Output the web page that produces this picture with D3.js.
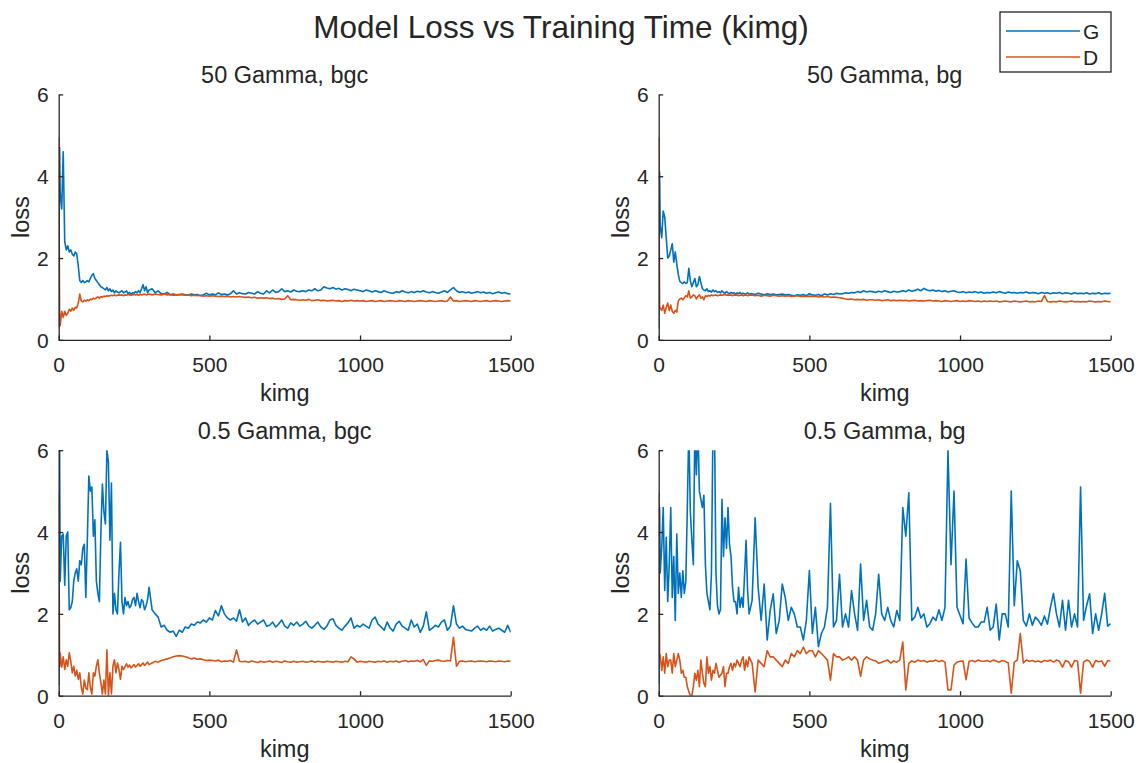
<!DOCTYPE html>
<html>
<head>
<meta charset="utf-8">
<script src="https://cdn.jsdelivr.net/npm/d3@7"></script>
<style>
  body { margin: 0; background: #fff; }
  text { font-family: "Liberation Sans", Arial, Helvetica, sans-serif; fill: #262626; }
</style>
</head>
<body>
<script>
// loss curves

var kimg = [0, 3,
  5, 10, 15, 20, 25, 30, 35, 40, 45, 50,
  55, 60, 65, 70, 75, 80, 85, 90, 95, 100,
  105, 110, 115, 120, 125, 130, 135, 140, 145, 150,
  155, 160, 165, 170, 175, 180, 185, 190, 195, 200,
  205, 210, 215, 220, 225, 230, 235, 240, 245, 250,
  255, 260, 265, 270, 275, 280, 285, 290, 295, 300,
  310, 320, 330, 340, 350, 360, 370, 380, 390, 400,
  410, 420, 430, 440, 450, 460, 470, 480, 490, 500,
  510, 520, 530, 540, 550, 560, 570, 580, 590, 600,
  610, 620, 630, 640, 650, 660, 670, 680, 690, 700,
  710, 720, 730, 740, 750, 760, 770, 780, 790, 800,
  810, 820, 830, 840, 850, 860, 870, 880, 890, 900,
  910, 920, 930, 940, 950, 960, 970, 980, 990, 1000,
  1010, 1020, 1030, 1040, 1050, 1060, 1070, 1080, 1090, 1100,
  1110, 1120, 1130, 1140, 1150, 1160, 1170, 1180, 1190, 1200,
  1210, 1220, 1230, 1240, 1250, 1260, 1270, 1280, 1290, 1300,
  1310, 1320, 1330, 1340, 1350, 1360, 1370, 1380, 1390, 1400,
  1410, 1420, 1430, 1440, 1450, 1460, 1470, 1480, 1490, 1500];

// 50 Gamma, bgc
var g50bgc = [0.3, 4.7,
  3.6, 3.2, 4.6, 2.4, 2.2, 2.3, 2.15, 2.2, 2.1, 2.05,
  2.15, 2.1, 1.8, 1.45, 1.4, 1.45, 1.4, 1.42, 1.45, 1.42,
  1.5, 1.58, 1.62, 1.5, 1.45, 1.4, 1.35, 1.3, 1.28, 1.25,
  1.22, 1.28, 1.2, 1.25, 1.18, 1.22, 1.15, 1.2, 1.17, 1.15,
  1.18, 1.2, 1.15, 1.17, 1.2, 1.13, 1.16, 1.12, 1.15, 1.14,
  1.18, 1.15, 1.2, 1.16, 1.25, 1.35, 1.2, 1.3, 1.15, 1.22,
  1.25, 1.15, 1.2, 1.13, 1.12, 1.16, 1.1, 1.12, 1.1, 1.11,
  1.12, 1.1, 1.09, 1.12, 1.1, 1.11, 1.08, 1.1, 1.14, 1.1,
  1.12, 1.1, 1.15, 1.11, 1.12, 1.1, 1.13, 1.2, 1.12, 1.15,
  1.13, 1.12, 1.16, 1.14, 1.12, 1.18, 1.14, 1.12, 1.2, 1.15,
  1.22, 1.16, 1.18, 1.25, 1.18, 1.2, 1.17, 1.22, 1.19, 1.18,
  1.2, 1.18, 1.22, 1.2, 1.25, 1.2, 1.22, 1.3, 1.27, 1.25,
  1.28, 1.24, 1.26, 1.22, 1.25, 1.23, 1.2, 1.24, 1.22, 1.2,
  1.18, 1.22, 1.2, 1.17, 1.2, 1.18, 1.16, 1.2, 1.17, 1.15,
  1.14, 1.18, 1.16, 1.2, 1.17, 1.15, 1.18, 1.16, 1.19, 1.17,
  1.2, 1.17, 1.15, 1.18, 1.16, 1.14, 1.17, 1.2, 1.16, 1.22,
  1.28, 1.2, 1.16, 1.18, 1.15, 1.17, 1.14, 1.16, 1.18, 1.15,
  1.17, 1.14, 1.16, 1.13, 1.15, 1.17, 1.14, 1.16, 1.13, 1.12];
var d50bgc = [4.95, 0.6,
  0.35, 0.7, 0.55, 0.7, 0.6, 0.65, 0.75, 0.7, 0.78, 0.72,
  0.8, 0.78, 0.9, 1.12, 0.95, 0.93, 0.97, 0.95, 0.98, 0.96,
  1.0, 0.98, 1.02, 1.0, 1.03, 1.05, 1.02, 1.06, 1.04, 1.07,
  1.06, 1.08, 1.07, 1.08, 1.09, 1.08, 1.1, 1.08, 1.09, 1.1,
  1.09, 1.1, 1.08, 1.1, 1.09, 1.11, 1.1, 1.09, 1.1, 1.11,
  1.1, 1.11, 1.09, 1.12, 1.1, 1.11, 1.12, 1.1, 1.11, 1.12,
  1.1, 1.12, 1.11, 1.1, 1.12, 1.1, 1.11, 1.09, 1.1, 1.1,
  1.1, 1.09, 1.1, 1.08, 1.09, 1.08, 1.09, 1.07, 1.08, 1.07,
  1.08, 1.07, 1.06, 1.07, 1.06, 1.07, 1.05, 1.06, 1.05, 1.06,
  1.05, 1.04, 1.05, 1.03, 1.04, 1.02, 1.03, 1.02, 1.03, 1.01,
  1.02, 1.0, 1.01, 0.99, 1.0, 1.08, 0.98, 0.99, 0.98, 0.97,
  0.98, 0.97, 0.99, 0.96, 0.97, 0.98, 0.96, 0.97, 0.95, 0.96,
  0.97, 0.95, 0.96, 0.94, 0.96, 0.95, 0.97, 0.95, 0.96, 0.95,
  0.96, 0.94, 0.95, 0.96, 0.94, 0.95, 0.96, 0.94, 0.95, 0.96,
  0.95, 0.94, 0.96, 0.95, 0.94, 0.96, 0.95, 0.94, 0.95, 0.96,
  0.95, 0.94, 0.96, 0.95, 0.94, 0.95, 0.96, 0.94, 0.95, 1.05,
  0.95, 0.96, 0.94, 0.95, 0.96, 0.95, 0.94, 0.96, 0.95, 0.94,
  0.95, 0.96, 0.94, 0.95, 0.96, 0.95, 0.94, 0.95, 0.96, 0.95];

// 50 Gamma, bg
var g50bg = [0.28, 4.1,
  2.8, 2.5, 3.15, 3.0, 2.5, 2.0, 2.05, 2.2, 2.35, 1.9,
  2.15, 1.85, 1.6, 1.43, 1.4, 1.38, 1.42, 1.38, 1.4, 1.75,
  1.45, 1.3, 1.4, 1.5, 1.3, 1.35, 1.55, 1.4, 1.25, 1.22,
  1.2, 1.25, 1.18, 1.2, 1.17, 1.22, 1.18, 1.2, 1.16, 1.18,
  1.15, 1.2, 1.16, 1.14, 1.18, 1.15, 1.13, 1.16, 1.14, 1.15,
  1.12, 1.15, 1.13, 1.16, 1.12, 1.14, 1.12, 1.13, 1.15, 1.12,
  1.13, 1.11, 1.14, 1.12, 1.1, 1.13, 1.11, 1.12, 1.1, 1.11,
  1.12, 1.1, 1.11, 1.09, 1.08, 1.1, 1.09, 1.11, 1.08, 1.13,
  1.1, 1.09, 1.11, 1.08, 1.12, 1.1, 1.13, 1.11, 1.14, 1.12,
  1.13, 1.15, 1.14, 1.16, 1.15, 1.18, 1.16, 1.2, 1.17, 1.19,
  1.18, 1.16, 1.19, 1.17, 1.2, 1.18, 1.16, 1.19, 1.17, 1.18,
  1.2, 1.18, 1.22, 1.19, 1.21, 1.24, 1.2, 1.26, 1.22, 1.2,
  1.22, 1.19, 1.21, 1.18, 1.2, 1.17, 1.19, 1.2, 1.17, 1.16,
  1.18, 1.15, 1.17, 1.16, 1.18, 1.15, 1.17, 1.14, 1.16, 1.15,
  1.17, 1.15, 1.18, 1.16, 1.14, 1.17, 1.15, 1.16, 1.14, 1.16,
  1.15, 1.17, 1.14, 1.16, 1.15, 1.13, 1.16, 1.14, 1.15, 1.13,
  1.15, 1.14, 1.16, 1.13, 1.15, 1.14, 1.12, 1.15, 1.13, 1.14,
  1.13, 1.15, 1.12, 1.14, 1.13, 1.15, 1.12, 1.14, 1.13, 1.14];
var d50bg = [4.95, 0.8,
  0.78, 0.72, 0.85, 0.65, 0.8, 0.9, 0.72, 0.85, 0.7, 0.65,
  0.72, 0.68, 0.95, 1.0, 1.02, 0.98, 1.03, 1.08, 1.05, 1.2,
  1.02, 1.05, 1.1, 1.08, 1.0, 1.06, 1.1, 1.02, 1.05, 0.98,
  1.08, 1.06, 1.09, 1.07, 1.1, 1.08, 1.09, 1.1, 1.08, 1.09,
  1.1, 1.09, 1.1, 1.11, 1.09, 1.1, 1.09, 1.1, 1.08, 1.1,
  1.09, 1.1, 1.08, 1.09, 1.1, 1.08, 1.09, 1.1, 1.08, 1.09,
  1.1, 1.08, 1.09, 1.07, 1.09, 1.08, 1.07, 1.09, 1.08, 1.07,
  1.08, 1.07, 1.08, 1.06, 1.07, 1.08, 1.06, 1.07, 1.06, 1.07,
  1.06, 1.07, 1.05, 1.06, 1.05, 1.06, 1.04, 1.05, 1.04, 1.03,
  1.02, 1.0, 0.99, 1.0, 0.98, 0.99, 0.98, 0.99, 0.97, 0.98,
  0.98, 0.97, 0.98, 0.96, 0.97, 0.98, 0.96, 0.97, 0.96, 0.97,
  0.96, 0.97, 0.95, 0.96, 0.97, 0.95, 0.96, 0.95, 0.96, 0.97,
  0.95, 0.96, 0.95, 0.94, 0.96, 0.95, 0.94, 0.95, 0.96, 0.94,
  0.95, 0.94, 0.96, 0.95, 0.94, 0.95, 0.93, 0.95, 0.94, 0.95,
  0.94, 0.95, 0.93, 0.94, 0.95, 0.94, 0.93, 0.95, 0.94, 0.93,
  0.94, 0.95, 0.93, 0.94, 0.93, 0.95, 0.94, 1.08, 0.94, 0.93,
  0.94, 0.93, 0.95, 0.94, 0.93, 0.94, 0.95, 0.93, 0.94, 0.93,
  0.94, 0.93, 0.95, 0.94, 0.93, 0.94, 0.93, 0.95, 0.94, 0.93];

// 0.5 Gamma, bgc
var g05bgc = [0.26, 6.0,
  2.8, 3.9, 3.95, 2.7, 3.9, 4.0, 2.1, 2.15, 2.3, 2.8,
  3.0, 3.1, 2.8, 3.3, 3.2, 3.6, 3.7, 2.4, 3.8, 5.37,
  5.0, 5.1, 3.9, 4.3, 2.8, 2.5, 2.3, 4.0, 5.17, 4.5,
  4.2, 6.0, 5.7, 3.8, 5.2, 2.0, 2.5, 2.1, 2.0, 3.0,
  3.75, 2.3, 2.0, 2.4, 2.2, 2.3, 2.15, 2.2, 2.35, 2.4,
  2.2, 2.5, 2.3, 2.15, 2.35, 2.3, 2.1, 2.2, 2.35, 2.65,
  2.1, 2.0, 1.92, 1.68, 1.72, 1.6, 1.55, 1.58, 1.45, 1.6,
  1.55, 1.68, 1.65, 1.75, 1.72, 1.8, 1.78, 1.85, 1.8, 1.9,
  1.85, 2.08, 1.95, 2.2, 2.0, 1.9, 1.85, 1.9, 1.82, 2.1,
  1.8, 1.9, 1.72, 1.8, 1.85, 1.75, 1.8, 1.85, 1.7, 1.72,
  1.8, 1.68, 1.75, 1.85, 1.7, 1.65, 1.78, 1.72, 1.8, 1.7,
  1.75, 1.82, 1.7, 1.65, 1.72, 1.8, 1.68, 1.62, 1.7, 1.85,
  1.88, 1.72, 1.65, 1.6, 1.7, 1.78, 1.9, 1.65, 1.72, 1.68,
  1.75, 1.7, 1.65, 1.85, 1.92, 1.75, 1.68, 1.6, 1.8, 1.65,
  1.58, 1.75, 1.82, 1.7, 1.65, 1.6, 1.85, 1.68, 1.75, 1.55,
  1.7, 2.05, 1.6, 1.65, 1.72, 1.68, 1.8, 1.85, 1.6, 1.7,
  2.2, 1.75, 1.65, 1.7, 1.62, 1.6, 1.58, 1.65, 1.7, 1.6,
  1.65, 1.6, 1.7, 1.58, 1.62, 1.65, 1.6, 1.55, 1.72, 1.55];
var d05bgc = [4.96, 0.7,
  1.05, 0.7, 0.95, 0.64, 0.88, 0.72, 1.05, 0.85, 0.56, 0.72,
  0.48, 0.62, 0.4, 0.56, 0.2, 0.04, 0.38, 0.18, 0.15, 0.56,
  0.2, 0.04, 0.56, 0.48, 0.72, 0.88, 0.56, 0.32, 0.04, 0.38,
  0.04, 1.12, 0.0, 0.56, 0.04, 0.72, 0.88, 0.56, 0.8, 0.64,
  0.4, 0.72, 0.64, 0.71, 0.78, 0.7, 0.75, 0.68, 0.72, 0.76,
  0.7, 0.74, 0.78, 0.72, 0.76, 0.8, 0.74, 0.78, 0.82, 0.76,
  0.8, 0.84, 0.82, 0.86, 0.88, 0.9, 0.92, 0.95, 0.97, 0.98,
  0.97, 0.95, 0.93, 0.9, 0.92, 0.89, 0.9, 0.88, 0.86, 0.87,
  0.86, 0.85, 0.87, 0.83, 0.85, 0.84, 0.86, 0.82, 1.12, 0.84,
  0.83, 0.84, 0.82, 0.85, 0.83, 0.81, 0.84, 0.82, 0.83, 0.85,
  0.82, 0.84, 0.83, 0.81, 0.85, 0.83, 0.82, 0.84, 0.82, 0.83,
  0.84, 0.82, 0.83, 0.85, 0.82, 0.84, 0.83, 0.82, 0.84, 0.83,
  0.82, 0.84, 0.83, 0.82, 0.84, 0.83, 0.95, 0.9, 0.82, 0.84,
  0.83, 0.82, 0.84, 0.83, 0.82, 0.84, 0.83, 0.85, 0.82, 0.84,
  0.83, 0.85, 0.82, 0.84, 0.86, 0.83, 0.85, 0.84, 0.86, 0.83,
  0.88, 0.74, 0.85, 0.84, 0.86, 0.87, 0.85, 0.84, 0.86, 0.85,
  1.43, 0.72, 0.84, 0.85, 0.83, 0.84, 0.85, 0.83, 0.84, 0.85,
  0.84, 0.83, 0.85, 0.84, 0.83, 0.85, 0.84, 0.83, 0.85, 0.84];

// 0.5 Gamma, bg (values above 6 run off the top of the axes)
var g05bg = [0.3, 4.6,
  3.0, 3.6, 4.6, 2.57, 3.87, 2.3, 3.2, 4.6, 2.4, 3.4,
  1.84, 3.95, 2.5, 3.0, 2.4, 3.05, 2.5, 2.8, 4.6, 6.6,
  4.5, 3.8, 3.2, 6.6, 5.4, 6.6, 5.0, 4.8, 4.6, 4.9,
  3.2, 2.5, 2.3, 2.1, 3.0, 6.5, 6.7, 3.0, 2.2, 2.0,
  2.1, 4.8, 3.4, 4.35, 3.6, 4.6, 3.7, 3.4, 2.65, 2.3,
  2.3, 2.0, 2.65, 2.16, 2.4, 2.16, 2.97, 3.8, 2.57, 2.0,
  2.33, 4.35, 2.65, 1.84, 2.73, 1.36, 2.08, 2.49, 1.52, 1.84,
  2.73, 2.4, 1.84, 2.16, 2.0, 1.68, 1.68, 1.36, 1.84, 3.06,
  1.52, 2.16, 1.2, 1.52, 1.68, 2.16, 4.7, 1.68, 1.84, 2.97,
  1.68, 2.0, 1.68, 2.57, 2.0, 1.6, 3.22, 1.84, 2.33, 1.68,
  1.6, 2.0, 2.97, 2.0, 1.84, 2.16, 1.84, 1.68, 2.08, 1.84,
  4.6, 3.9, 4.96, 1.84, 1.92, 2.16, 1.9, 2.0, 1.68, 1.76,
  1.92, 1.84, 2.1, 1.84, 2.16, 6.0, 3.2, 5.0, 2.16, 1.96,
  1.76, 3.34, 1.9, 1.78, 1.68, 1.68, 1.8, 1.8, 2.16, 1.6,
  1.68, 2.24, 1.36, 2.0, 2.0, 1.68, 5.0, 2.2, 3.3, 3.05,
  1.84, 1.7, 2.0, 1.72, 1.92, 1.84, 1.72, 1.95, 1.75, 2.16,
  2.5, 2.0, 1.68, 2.33, 1.6, 2.33, 1.68, 2.0, 1.68, 5.1,
  1.84, 2.2, 2.49, 1.52, 2.0, 1.6, 2.0, 2.5, 1.7, 1.76];
var d05bg = [4.96, 1.03,
  1.0, 0.62, 0.95, 0.55, 1.03, 0.71, 0.87, 0.87, 0.55, 1.03,
  0.71, 0.87, 1.03, 0.87, 0.55, 0.62, 0.45, 0.45, 0.22, 0.1,
  0.0, 0.0, 0.22, 0.55, 0.38, 0.62, 0.22, 0.87, 0.55, 0.3,
  0.22, 0.95, 0.55, 0.71, 0.38, 0.62, 0.55, 0.79, 0.62, 0.45,
  0.5, 0.55, 0.71, 0.22, 0.55, 0.55, 0.71, 0.79, 0.62, 0.79,
  0.71, 0.87, 0.79, 0.71, 0.87, 0.95, 0.62, 0.87, 0.71, 0.95,
  0.79, 0.09, 0.87, 0.79, 0.71, 1.1, 0.95, 0.95, 0.87, 0.79,
  0.71, 0.87, 0.79, 1.03, 0.95, 1.1, 1.03, 1.19, 1.03, 1.1,
  1.1, 0.95, 1.1, 1.03, 0.95, 0.87, 0.38, 1.03, 0.95, 0.95,
  0.87, 0.9, 0.95, 0.87, 0.95, 0.87, 0.47, 0.87, 0.95, 0.9,
  0.87, 0.85, 0.79, 0.82, 0.85, 0.87, 0.8, 0.85, 0.82, 0.87,
  1.31, 0.14, 0.79, 0.85, 0.82, 0.87, 0.84, 0.86, 0.82, 0.85,
  0.84, 0.87, 0.83, 0.86, 0.82, 0.14, 0.14, 0.75, 0.82, 0.84,
  0.85, 0.39, 0.84, 0.86, 0.83, 0.87, 0.85, 0.84, 0.86, 0.83,
  0.87, 0.85, 0.82, 0.86, 0.84, 0.8, 0.06, 0.82, 0.87, 1.52,
  0.8, 0.87, 0.84, 0.86, 0.83, 0.85, 0.82, 0.86, 0.84, 0.87,
  0.82, 0.87, 0.84, 0.7, 0.86, 0.83, 0.7, 0.86, 0.84, 0.06,
  0.82, 0.87, 0.84, 0.7, 0.86, 0.83, 0.85, 0.72, 0.86, 0.84];

var panelTitles = ["50 Gamma, bgc", "50 Gamma, bg", "0.5 Gamma, bgc", "0.5 Gamma, bg"];
var seriesNames = ["G", "D"];
var xTicks = [0, 500, 1000, 1500];
var yTicks = [0, 2, 4, 6];

var colors = ["#0072BD", "#D95319"];
var axisColor = "#262626";

var svg = d3.select("body").append("svg")
    .attr("width", 1144)
    .attr("height", 763);

svg.append("text")
    .attr("x", 561).attr("y", 38)
    .attr("text-anchor", "middle")
    .attr("font-size", "31.5px")
    .text("Model Loss vs Training Time (kimg)");

var plotW = 452, plotH = 245.5;
var panels = [
  {title: panelTitles[0], series: [g50bgc, d50bgc], left: 58.7, top: 94.4},
  {title: panelTitles[1], series: [g50bg, d50bg], left: 658.7, top: 94.4},
  {title: panelTitles[2], series: [g05bgc, d05bgc], left: 58.7, top: 450.2},
  {title: panelTitles[3], series: [g05bg, d05bg], left: 658.7, top: 450.2}
];

panels.forEach(function(p, pi){
    var x = d3.scaleLinear().domain([0, 1500]).range([p.left, p.left + plotW]);
    var y = d3.scaleLinear().domain([0, 6]).range([p.top + plotH, p.top]);

    var clipId = "clip" + pi;
    svg.append("clipPath").attr("id", clipId)
      .append("rect")
        .attr("x", x(0)).attr("y", y(6))
        .attr("width", plotW).attr("height", plotH);

    var line = d3.line()
        .x(function(d, i){ return x(kimg[i]); })
        .y(function(d){ return y(d); });

    var lines = svg.append("g").attr("clip-path", "url(#" + clipId + ")");
    p.series.forEach(function(s, si){
        lines.append("path")
            .datum(s)
            .attr("d", line)
            .attr("fill", "none")
            .attr("stroke", colors[si])
            .attr("stroke-width", 1.6)
            .attr("stroke-linejoin", "round");
    });

    // x axis
    var gx = svg.append("g")
        .attr("transform", "translate(0," + y(0) + ")")
        .call(d3.axisBottom(x).tickValues(xTicks).tickFormat(d3.format("d"))
            .tickSize(-4.5).tickSizeOuter(0));
    gx.selectAll("text")
        .attr("y", 32.5).attr("dy", null)
        .attr("font-size", "21px")
        .attr("fill", axisColor);

    // y axis
    var gy = svg.append("g")
        .attr("transform", "translate(" + x(0) + ",0)")
        .call(d3.axisLeft(y).tickValues(yTicks).tickFormat(d3.format("d"))
            .tickSize(-4.5).tickSizeOuter(0));
    gy.selectAll("text")
        .attr("x", -10).attr("dy", "0.36em")
        .attr("font-size", "21px")
        .attr("fill", axisColor);

    svg.selectAll(".domain, .tick line")
        .attr("stroke", axisColor)
        .attr("stroke-width", 1.3);
    svg.selectAll(".tick text").attr("font-family", null);

    svg.append("text")
        .attr("x", x(750)).attr("y", p.top - 11)
        .attr("text-anchor", "middle")
        .attr("font-size", "23.5px")
        .text(p.title);

    svg.append("text")
        .attr("x", x(750)).attr("y", y(0) + 61)
        .attr("text-anchor", "middle")
        .attr("font-size", "23.5px")
        .text("kimg");

    svg.append("text")
        .attr("transform", "translate(" + (p.left - 30.2) + "," + (p.top + plotH / 2) + ") rotate(-90)")
        .attr("text-anchor", "middle")
        .attr("font-size", "23.5px")
        .text("loss");
});

// legend
var legend = svg.append("g").attr("transform", "translate(1000,12)");
legend.append("rect")
    .attr("width", 111).attr("height", 60)
    .attr("fill", "#fff")
    .attr("stroke", axisColor)
    .attr("stroke-width", 1.3);
seriesNames.forEach(function(name, i){
    var ly = 19 + i * 26;
    legend.append("line")
        .attr("x1", 6).attr("x2", 80)
        .attr("y1", ly).attr("y2", ly)
        .attr("stroke", colors[i])
        .attr("stroke-width", 1.6);
    legend.append("text")
        .attr("x", 83).attr("y", ly + 7.5)
        .attr("font-size", "21px")
        .text(name);
});
</script>
</body>
</html>
